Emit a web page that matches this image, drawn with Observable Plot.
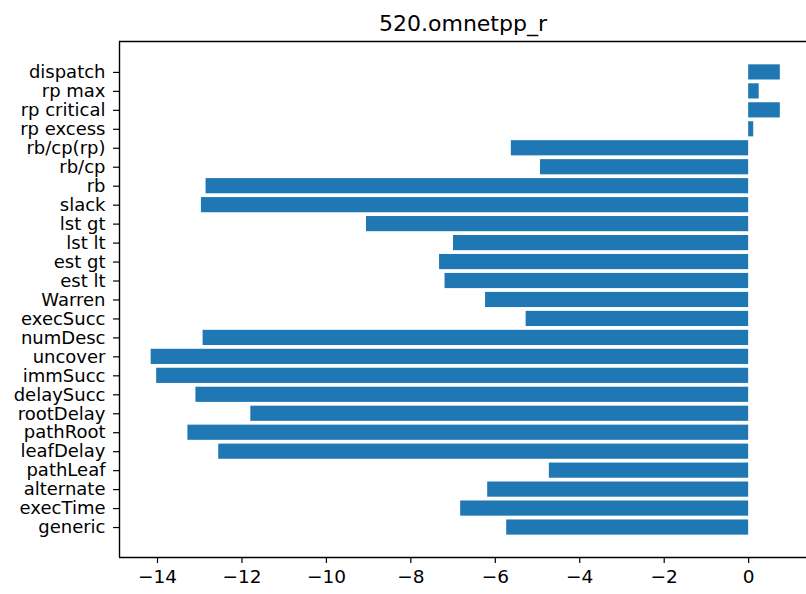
<!DOCTYPE html>
<html>
<head>
<meta charset="utf-8">
<script src="https://cdn.jsdelivr.net/npm/d3@7"></script>
<script src="https://cdn.jsdelivr.net/npm/@observablehq/plot@0.6"></script>
<style>
  html, body { margin: 0; padding: 0; background: #fff; }
  #chart svg { display: block; }
</style>
</head>
<body>
<div id="chart"></div>
<script>
const title = "520.omnetpp_r";
// bottom to top
const categories = ["generic","execTime","alternate","pathLeaf","leafDelay","pathRoot","rootDelay","delaySucc","immSucc","uncover","numDesc","execSucc","Warren","est lt","est gt","lst lt","lst gt","slack","rb","rb/cp","rb/cp(rp)","rp excess","rp critical","rp max","dispatch"];
const values = [-5.73,-6.82,-6.18,-4.72,-12.55,-13.28,-11.79,-13.09,-14.02,-14.15,-12.92,-5.27,-6.23,-7.19,-7.32,-6.99,-9.05,-12.96,-12.85,-4.93,-5.62,0.12,0.75,0.25,0.75];
const xTicks = [-14,-12,-10,-8,-6,-4,-2,0];

const data = categories.map((c, i) => ({cat: c, i, value: values[i]}));
const xDomain = [-14.9, 1.37];
const yDomain = [-1.58, 25.63];
const fmt = d => d < 0 ? "\u2212" + (-d) : String(d);

const chart = Plot.plot({
  width: 806,
  height: 594,
  marginLeft: 119,
  marginRight: 0,
  marginTop: 41,
  marginBottom: 37,
  style: {fontFamily: "DejaVu Sans", fontSize: "18px", color: "#000", background: "#fff"},
  x: {domain: xDomain, label: null},
  y: {domain: yDomain, label: null},
  marks: [
    Plot.rectX(data, {x1: 0, x2: "value", y1: d => d.i - 0.4, y2: d => d.i + 0.4, fill: "#1f77b4"}),
    Plot.axisX({ticks: xTicks, tickFormat: fmt, tickSize: 6, tickPadding: 6, fontSize: 18.5, stroke: "#000", strokeWidth: 1.2}),
    Plot.axisY({ticks: d3.range(categories.length), tickFormat: i => categories[i], tickSize: 6, tickPadding: 8, fontSize: 18, stroke: "#000", strokeWidth: 1.2}),
    Plot.ruleX([xDomain[0]], {stroke: "#000", strokeWidth: 1.4}),
    Plot.ruleY(yDomain, {stroke: "#000", strokeWidth: 1.4}),
    Plot.text([title], {frameAnchor: "top", dy: -11, lineAnchor: "bottom", fontSize: 22, fill: "#000"})
  ]
});
document.getElementById("chart").appendChild(chart);
</script>
</body>
</html>
